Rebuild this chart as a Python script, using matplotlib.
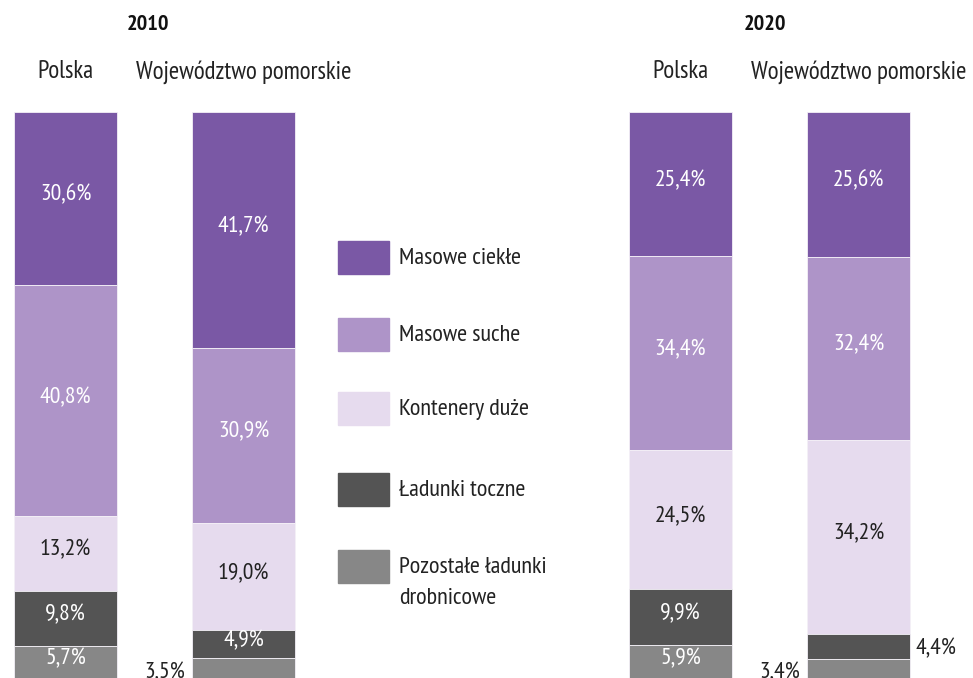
import matplotlib
matplotlib.use("Agg")
import matplotlib.pyplot as plt
from matplotlib.patches import Rectangle

plt.rcParams['font.family'] = ['PT Sans Narrow', 'Open Sans Condensed', 'DejaVu Sans']

# Cargo structure (%) in seaports, top segment first
categories = ["Masowe ciekłe", "Masowe suche", "Kontenery duże",
              "Ładunki toczne", "Pozostałe ładunki\ndrobnicowe"]
years = ["2010", "2020"]
regions = ["Polska", "Województwo pomorskie"]

polska_2010 = [30.6, 40.8, 13.2, 9.8, 5.7]
pomorskie_2010 = [41.7, 30.9, 19.0, 4.9, 3.5]
polska_2020 = [25.4, 34.4, 24.5, 9.9, 5.9]
pomorskie_2020 = [25.6, 32.4, 34.2, 4.4, 3.4]

series = [polska_2010, pomorskie_2010, polska_2020, pomorskie_2020]

colors = ["#7a58a5", "#ae94c8", "#e6dbee", "#545454", "#878787"]
text_colors = ["white", "white", "#222222", "white", "white"]

# label placement for thin segments: None = inside, otherwise side
outside = {(1, 4): "left", (3, 3): "right", (3, 4): "left"}

W, H = 973, 678
fig = plt.figure(figsize=(W / 100, H / 100), dpi=100)

bar_top_px = 112
ax = fig.add_axes([0, 0, 1, (H - bar_top_px) / H])
unit = 178.0
first_center = 65.5
ax.set_xlim(-first_center / unit, (W - first_center) / unit)
ax.set_ylim(0, 100)
ax.axis("off")

group_offset = 3.455
xpos = [0, 1, group_offset, group_offset + 1]
width = 103 / unit

for i, vals in enumerate(series):
    top = 100.0
    for j, v in enumerate(vals):
        bottom = top - v
        ax.bar(xpos[i], v, bottom=bottom, width=width, color=colors[j],
               edgecolor="#f4f0f7", linewidth=0.6, zorder=2)
        label = f"{v:.1f}%".replace(".", ",")
        side = outside.get((i, j))
        yc = bottom + v / 2
        if side is None:
            ax.text(xpos[i], yc + 0.6, label, ha="center", va="center",
                    color=text_colors[j], fontsize=17, zorder=3)
        elif side == "left":
            ax.text(xpos[i] - width / 2 - 0.04, yc - 0.8, label, ha="right",
                    va="center", color="#222222", fontsize=17, zorder=3)
        else:
            ax.text(xpos[i] + width / 2 + 0.03, yc - 0.4, label, ha="left",
                    va="center", color="#222222", fontsize=17, zorder=3)
        top = bottom

# Year titles and region headers
year_x_px = [148, 765]
for k, yr in enumerate(years):
    fig.text(year_x_px[k] / W, 1 - 25 / H, yr, ha="center", va="center",
             fontsize=16, fontweight="bold", color="#111111")
for i in range(4):
    cx = (first_center + xpos[i] * unit) / W
    fig.text(cx, 1 - 72 / H, regions[i % 2], ha="center", va="center",
             fontsize=18, color="#222222")

# Legend
leg_x, leg_w, leg_h = 338, 51, 33
leg_y = [241, 318, 392, 473, 550]
for j, cat in enumerate(categories):
    y0 = leg_y[j]
    fig.patches.append(Rectangle((leg_x / W, 1 - (y0 + leg_h) / H),
                                 leg_w / W, leg_h / H, color=colors[j],
                                 transform=fig.transFigure, figure=fig))
    lines = cat.split("\n")
    for n, line in enumerate(lines):
        fig.text(399 / W, 1 - (y0 + leg_h / 2 + 1 + n * 31) / H, line,
                 ha="left", va="center", fontsize=17.5, color="#222222")

fig.savefig("out.png", dpi=100)
